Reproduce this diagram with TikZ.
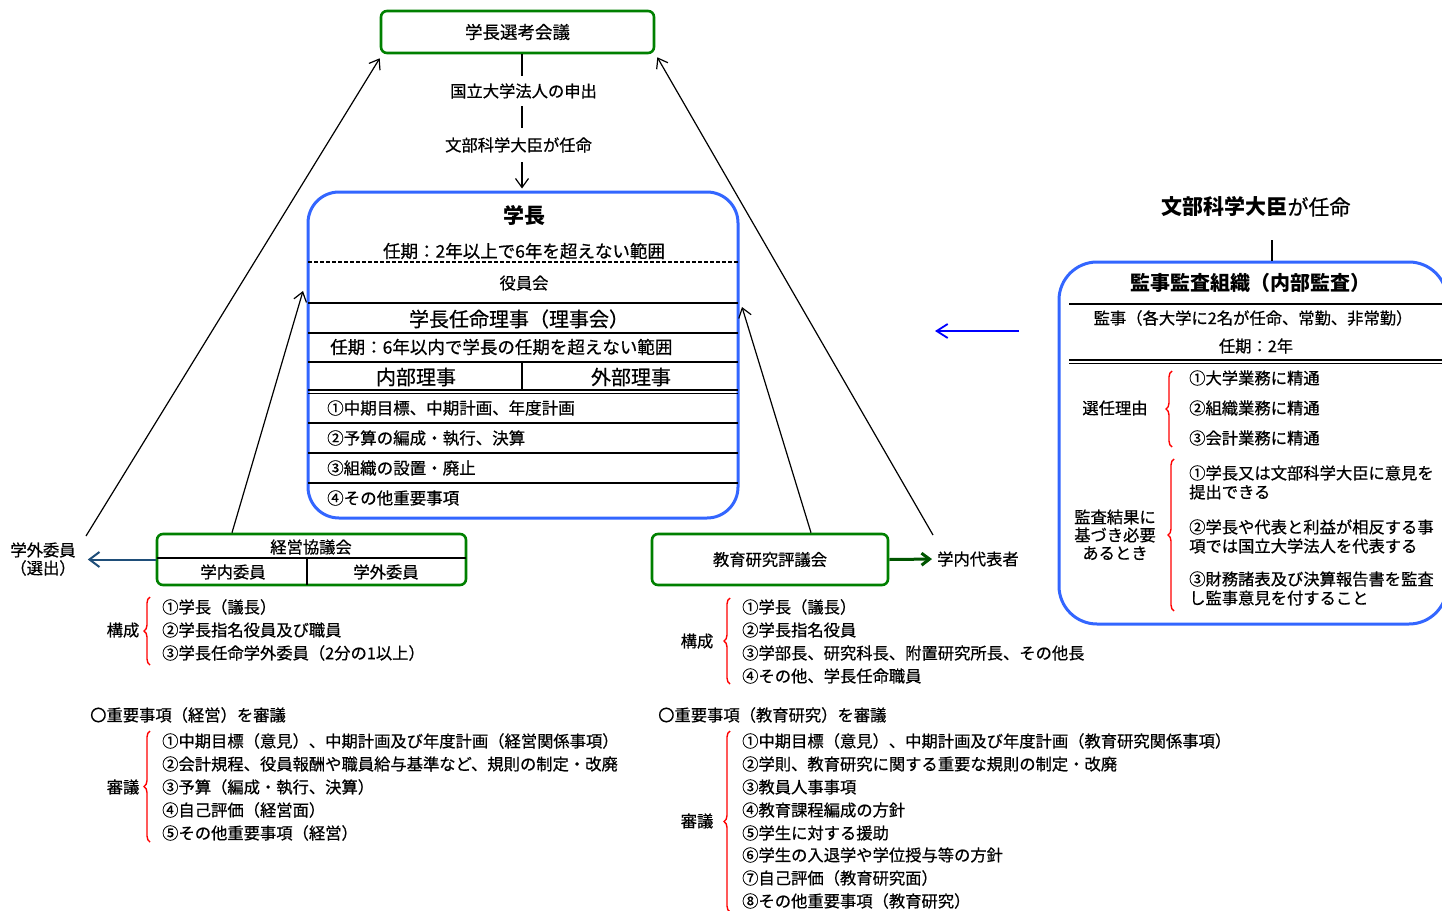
\documentclass[tikz,border=0pt]{standalone}
\usepackage{fontspec}
\setmainfont{Noto Sans CJK JP}[UprightFeatures={FakeBold=0.6}]
\usetikzlibrary{arrows.meta,decorations.pathreplacing}
\definecolor{gboxc}{RGB}{0,128,0}
\definecolor{bboxc}{RGB}{51,102,255}
\definecolor{navyc}{RGB}{31,78,121}
\definecolor{dgreenc}{RGB}{0,85,0}
\definecolor{barrc}{RGB}{0,0,255}
\definecolor{bracec}{RGB}{255,0,0}
\tikzset{
 fs/.style={font=\fontsize{#1}{#1}\selectfont, text height={0.88*#1pt}, text depth={0.12*#1pt}},
 fsb/.style={font=\fontsize{#1}{#1}\selectfont\bfseries, text height={0.88*#1pt}, text depth={0.12*#1pt}},
 t/.style={fs=16.3},
 tw/.style={fs=16.3, anchor=west},
 gnode/.style={draw=gboxc, line width=2.6pt, rounded corners=6pt},
 bnode/.style={draw=bboxc, line width=3pt},
 rulel/.style={line width=1.8pt},
 thinrule/.style={line width=1.3pt},
 arr/.style={line width=1.2pt, -{Straight Barb[length=9pt,width=13pt]}},
 navyarr/.style={draw=navyc, line width=2pt, -{Straight Barb[length=10pt,width=15pt]}},
 dgarr/.style={draw=dgreenc, line width=3pt, -{Straight Barb[length=8pt,width=12pt]}},
 barr/.style={draw=barrc, line width=1.8pt, -{Straight Barb[length=11pt,width=14pt]}},
 brc/.style={draw=bracec, line width=1.4pt, decorate, decoration={brace, amplitude=6pt}},
}
\begin{document}
\begin{tikzpicture}[x=1pt,y=-1pt]
\tikzset{every node/.append style={inner sep=0pt}}
\useasboundingbox (0,0) rectangle (1442,910);

% ---------- top: selection council ----------
\node[gnode, minimum width=273pt, minimum height=42pt, fs=17.5] (senko) at (517.5,32) {学長選考会議};
\coordinate (vx) at (522,0);
\node[t, outer sep=7pt] (mos) at (523.5,91) {国立大学法人の申出};
\node[t, outer sep=9pt] (nin) at (518.5,145) {文部科学大臣が任命};

% ---------- president box ----------
\node[bnode, rounded corners=31pt, minimum width=430pt, minimum height=326pt] (gakucho) at (523,355) {};
\draw[line width=2pt] (senko.south -| vx) -- (mos.north -| vx);
\draw[line width=2pt] (mos.south -| vx) -- (nin.north -| vx);
\draw[arr, shorten >=2pt] (nin.south -| vx) -- (gakucho.north -| vx);

\node[fsb=21] (gc) at (524,216) {学長};
\node[fs=17.5] (gcterm) at (524,251) {任期：2年以上で6年を超えない範囲};
\draw[line width=1.4pt, dash pattern=on 4pt off 2pt] (308,262) -- (738,262);
\node[t] (yakuin) at (524,283) {役員会};
\draw[rulel] (308,303) -- (738,303);
\node[fs=20] (riji) at (519,319) {学長任命理事（理事会）};
\draw[rulel] (308,333) -- (738,333);
\node[fs=17.5, anchor=west] (rterm) at (330,347) {任期：6年以内で学長の任期を超えない範囲};
\draw[rulel] (308,362) -- (738,362);
\node[fs=20] (nai) at (416,377) {内部理事};
\node[fs=20] (gai) at (631,377) {外部理事};
\draw[rulel] (522,362) -- (522,390);
\draw[thinrule] (308,390) -- (738,390);
\draw[thinrule] (308,393.5) -- (738,393.5);
\node[fs=16.5, anchor=west] (c1) at (327,408) {①中期目標、中期計画、年度計画};
\draw[rulel] (308,423) -- (738,423);
\node[fs=16.5, anchor=west] (c2) at (327,438) {②予算の編成・執行、決算};
\draw[rulel] (308,453) -- (738,453);
\node[fs=16.5, anchor=west] (c3) at (327,468) {③組織の設置・廃止};
\draw[rulel] (308,483) -- (738,483);
\node[fs=16.5, anchor=west] (c4) at (327,498) {④その他重要事項};

% ---------- management council ----------
\node[gnode, minimum width=309pt, minimum height=51pt] (keiei) at (311.5,559.5) {};
\draw[thinrule] (157,558) -- (466,558);
\draw[thinrule] (307,558) -- (307,585);
\node[t] (kk) at (311,547) {経営協議会};
\node[t] (kin) at (233,572) {学内委員};
\node[t] (kout) at (386,572) {学外委員};

\node[t] (gaiin) at (43,550) {学外委員};
\node[t] (sen) at (43,568) {（選出）};
\draw[navyarr, shorten >=12pt] (keiei.west) -- (gaiin.east |- keiei.west);

% ---------- education research council ----------
\node[gnode, minimum width=236pt, minimum height=51pt, t] (kyoiku) at (770,559.5) {教育研究評議会};
\node[tw] (dai) at (937,559) {学内代表者};
\draw[dgarr, shorten >=5pt] (kyoiku.east) -- (dai.west);

% ---------- arrows to top / president ----------
\coordinate (la) at (86,536);
\coordinate (ra) at (933,535);
\draw[arr] (la) -- ([shift={(0pt,-4pt)}]senko.south west);
\draw[arr] (ra) -- ([shift={(2pt,-3pt)}]senko.south east);
\coordinate (gl) at (303,291);
\coordinate (gr) at (742,307);
\draw[arr] (keiei.north -| 232,0) -- (gl);
\draw[arr] (kyoiku.north -| 811,0) -- (gr);

% ---------- composition lists ----------
\node[t] (kos1) at (123,630) {構成};
\draw[brc] (150,665) -- (150,597);
\node[tw] (k11) at (162,607) {①学長（議長）};
\node[tw] (k12) at (162,630) {②学長指名役員及び職員};
\node[tw] (k13) at (162,653) {③学長任命学外委員（2分の1以上）};

\node[t] (kos2) at (697,641) {構成};
\draw[brc] (730,684) -- (730,598);
\node[tw] (k21) at (742,607) {①学長（議長）};
\node[tw] (k22) at (742,630) {②学長指名役員};
\node[tw] (k23) at (742,653) {③学部長、研究科長、附置研究所長、その他長};
\node[tw] (k24) at (742,676) {④その他、学長任命職員};

% ---------- deliberation lists ----------
\node[tw] (jk1) at (90,715) {〇重要事項（経営）を審議};
\node[t] (sg1) at (123,787) {審議};
\draw[brc] (150,842) -- (150,731);
\node[tw] (s11) at (162,741) {①中期目標（意見）、中期計画及び年度計画（経営関係事項）};
\node[tw] (s12) at (162,764) {②会計規程、役員報酬や職員給与基準など、規則の制定・改廃};
\node[tw] (s13) at (162,787) {③予算（編成・執行、決算）};
\node[tw] (s14) at (162,810) {④自己評価（経営面）};
\node[tw] (s15) at (162,833) {⑤その他重要事項（経営）};

\node[tw] (jk2) at (658,715) {〇重要事項（教育研究）を審議};
\node[t] (sg2) at (697,821) {審議};
\draw[brc] (730,912) -- (730,731);
\node[tw] (s21) at (742,741) {①中期目標（意見）、中期計画及び年度計画（教育研究関係事項）};
\node[tw] (s22) at (742,764) {②学則、教育研究に関する重要な規則の制定・改廃};
\node[tw] (s23) at (742,787) {③教員人事事項};
\node[tw] (s24) at (742,810) {④教育課程編成の方針};
\node[tw] (s25) at (742,833) {⑤学生に対する援助};
\node[tw] (s26) at (742,855) {⑥学生の入退学や学位授与等の方針};
\node[tw] (s27) at (742,878) {⑦自己評価（教育研究面）};
\node[tw] (s28) at (742,901) {⑧その他重要事項（教育研究）};

% ---------- auditor organisation ----------
\node[fs=21] (monka) at (1256,207) {{\bfseries 文部科学大臣}が任命};
\begin{scope}
\clip (0,0) rectangle (1442,910);
\node[bnode, rounded corners=38pt, minimum width=388pt, minimum height=362pt] (kansa) at (1253,443) {};
\draw[rulel] (1069,304) -- (1450,304);
\draw[thinrule] (1069,360) -- (1450,360);
\draw[thinrule] (1069,363.5) -- (1450,363.5);
\end{scope}
\coordinate (kl) at (1272,240);
\draw[line width=2pt] (kl) -- (kl |- kansa.north);
\node[fsb=20] (kt) at (1250,283) {監事監査組織（内部監査）};
\node[t] (kj) at (1253,318) {監事（各大学に2名が任命、常勤、非常勤）};
\node[t] (kterm) at (1256,346) {任期：2年};
\node[t] (sr) at (1115,408) {選任理由};
\draw[brc] (1172,447) -- (1172,371);
\node[tw] (r1) at (1189,378) {①大学業務に精通};
\node[tw] (r2) at (1189,408) {②組織業務に精通};
\node[tw] (r3) at (1189,438) {③会計業務に精通};
\node[t] (ka1) at (1115,517) {監査結果に};
\node[t] (ka2) at (1115,535) {基づき必要};
\node[t] (ka3) at (1115,553) {あるとき};
\draw[brc] (1174,611) -- (1174,459);
\node[tw] (a1) at (1189,473) {①学長又は文部科学大臣に意見を};
\node[tw] (a1b) at (1189,492) {提出できる};
\node[tw] (a2) at (1189,527) {②学長や代表と利益が相反する事};
\node[tw] (a2b) at (1189,546) {項では国立大学法人を代表する};
\node[tw] (a3) at (1189,579) {③財務諸表及び決算報告書を監査};
\node[tw] (a3b) at (1189,598) {し監事意見を付すること};

\coordinate (bs) at (1019,331);
\coordinate (be) at (935,331);
\draw[barr] (bs) -- (be);
\end{tikzpicture}
\end{document}
